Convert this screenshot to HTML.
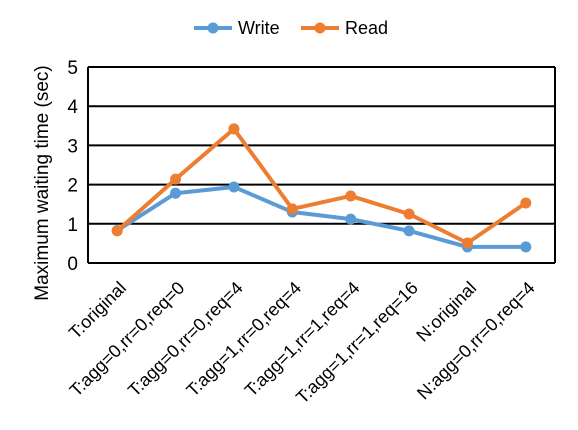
<!DOCTYPE html>
<html><head><meta charset="utf-8"><style>
body{margin:0;background:#fff;}
svg text{font-family:"Liberation Sans",Arial,sans-serif;fill:#000;}
</style></head><body>
<svg id="chart" width="578" height="425" viewBox="0 0 578 425" xmlns="http://www.w3.org/2000/svg">
<g id="legend">
  <g>
    <line x1="194" y1="28" x2="232" y2="28" stroke="#5B9BD5" stroke-width="4"/>
    <circle cx="213" cy="28" r="5.5" fill="#5B9BD5"/>
    <text x="238" y="34" font-size="18">Write</text>
  </g>
  <g>
    <line x1="301" y1="28" x2="339" y2="28" stroke="#ED7D31" stroke-width="4"/>
    <circle cx="320" cy="28" r="5.5" fill="#ED7D31"/>
    <text x="345" y="34" font-size="18">Read</text>
  </g>
</g>
<text transform="translate(48,183) rotate(-90)" text-anchor="middle" font-size="19">Maximum waiting time (sec)</text>
<g id="grid"></g><g id="ticks"></g><g id="series"></g>
</svg>
<script>
const categories=["T:original","T:agg=0,rr=0,req=0","T:agg=0,rr=0,req=4","T:agg=1,rr=0,req=4","T:agg=1,rr=1,req=4","T:agg=1,rr=1,req=16","N:original","N:agg=0,rr=0,req=4"];
const writeValues=[0.83,1.78,1.94,1.3,1.12,0.82,0.41,0.41];
const readValues=[0.82,2.14,3.42,1.38,1.71,1.25,0.51,1.53];
const yTicks=[0,1,2,3,4,5];
const NS="http://www.w3.org/2000/svg";
const L=88,R=555,T=67,B=263,yMax=5;
const band=(R-L)/categories.length;
function xPos(i){return L+band*(i+0.5);}
function yPos(v){return B-(v/yMax)*(B-T);}
function mk(tag,attrs,parent){const e=document.createElementNS(NS,tag);for(const k in attrs)e.setAttribute(k,attrs[k]);parent.appendChild(e);return e;}
const grid=document.getElementById('grid'),ticks=document.getElementById('ticks'),series=document.getElementById('series');
yTicks.forEach(v=>{
  const ln=mk('line',{x1:L,x2:R,y1:yPos(v),y2:yPos(v),stroke:'#000','stroke-width':2},grid);
  
  
  const t=mk('text',{x:L-10,y:yPos(v)+7,'text-anchor':'end','font-size':19},ticks);
  t.textContent=v;
  
  
});
const lf=mk('line',{x1:L,x2:L,y1:T,y2:B,stroke:'#000','stroke-width':2},grid);


const rf=mk('line',{x1:R,x2:R,y1:T,y2:B,stroke:'#000','stroke-width':2},grid);


categories.forEach((c,i)=>{
  const x=xPos(i)+10,y=289;
  const t=mk('text',{x:x,y:y,'text-anchor':'end','font-size':18,transform:'rotate(-45 '+x+' '+y+')'},ticks);
  t.textContent=c;
  
  
});
function draw(vals,color,name){
  const g=mk('g',{},series);
  
  
  const pl=mk('polyline',{points:vals.map((v,i)=>xPos(i)+','+yPos(v)).join(' '),fill:'none',stroke:color,'stroke-width':4,'stroke-linejoin':'round'},g);
  
  
  vals.forEach((v,i)=>{
    const c=mk('circle',{cx:xPos(i),cy:yPos(v),r:5.5,fill:color},g);
    
    
  });
}
draw(writeValues,'#5B9BD5','write');
draw(readValues,'#ED7D31','read');
</script>
</body></html>
